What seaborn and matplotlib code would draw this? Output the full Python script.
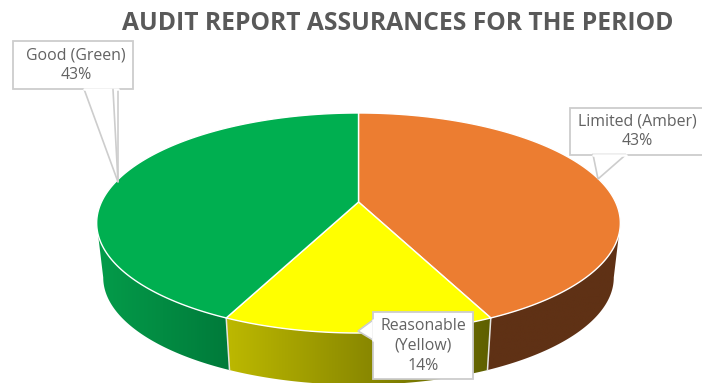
import numpy as np
import matplotlib
matplotlib.use("Agg")
import matplotlib.pyplot as plt
from matplotlib.patches import Polygon
import seaborn as sns

# Audit assurance shares, clockwise from twelve o'clock
categories = ["Limited (Amber)", "Reasonable\n(Yellow)", "Good (Green)"]
shares = [43, 14, 43]
top_colors = ["#EC7D31", "#FFFF00", "#00AF50"]
wall_ramps = [("#5F3115", "#5F3115"), ("#BDB900", "#5E5F00"), ("#049C4A", "#007A3A")]
title_text = "AUDIT REPORT ASSURANCES FOR THE PERIOD"

sns.set_theme(style="white")
plt.rcParams["font.family"] = ["Open Sans", "DejaVu Sans"]

fig = plt.figure(figsize=(7.02, 3.83), dpi=100)
ax = fig.add_axes([0, 0, 1, 1])
ax.set_xlim(0, 702)
ax.set_ylim(383, 0)
ax.axis("off")

# Tilted-disc projection: a unit circle seen in perspective
CX, CY, K, A, B = 358.5, 202.0, 257.0, 106.0, 0.191
DEPTH, SHRINK = 55.0, 0.975


def rim(theta, lower=False):
    x, y = np.sin(theta), np.cos(theta)
    d = 1 + B * y
    px, py = K * x / d, -A * y / d
    if lower:
        return CX + SHRINK * px, CY + SHRINK * py + DEPTH
    return CX + px, CY + py


edges = np.radians(np.cumsum([0] + shares) * 3.6)
front_lo, front_hi = np.radians(101), np.radians(259)

# Side walls are only visible on the near half of the disc
for i in range(len(shares)):
    lo, hi = max(edges[i], front_lo), min(edges[i + 1], front_hi)
    if hi <= lo:
        continue
    t = np.linspace(lo, hi, 120)
    tx, ty = rim(t)
    bx, by = rim(t, lower=True)
    outline = np.column_stack([np.r_[tx, bx[::-1]], np.r_[ty, by[::-1]]])
    patch = Polygon(outline, closed=True, facecolor="none", edgecolor="none", zorder=2)
    ax.add_patch(patch)
    ramp = sns.blend_palette(wall_ramps[i], n_colors=256, as_cmap=True)
    xs = outline[:, 0]
    # Each wall shades from the left end of its sector to the right end
    order = np.linspace(0, 1, 256)[None, :]
    img = ax.imshow(order, cmap=ramp, aspect="auto", zorder=2, interpolation="bilinear",
                    extent=(xs.min(), xs.max(), outline[:, 1].max(), outline[:, 1].min()))
    img.set_clip_path(patch)

# Seams between neighbouring wall sectors
for e in edges[1:-1]:
    tx, ty = rim(np.array([e]))
    bx, by = rim(np.array([e]), lower=True)
    ax.plot([tx[0], bx[0]], [ty[0], by[0]], color="#E4E4E0", lw=1.1, zorder=3)

# Top face sectors
for i in range(len(shares)):
    t = np.linspace(edges[i], edges[i + 1], 240)
    tx, ty = rim(t)
    ax.fill(np.r_[CX, tx], np.r_[CY, ty], facecolor=top_colors[i],
            edgecolor="white", lw=1.0, joinstyle="round", zorder=4)

ax.set_xlim(0, 702)
ax.set_ylim(383, 0)

GREY = "#CDCDCD"
TEXT = "#626262"


def callout(box, tip, base, label, value, text_xy):
    """White label box with a pointer running from its edge to the rim."""
    x0, y0, x1, y1 = box
    ax.add_patch(Polygon([(x0, y0), (x1, y0), (x1, y1), (x0, y1)], closed=True,
                         facecolor="white", edgecolor=GREY, lw=1.3, zorder=6))
    ax.add_patch(Polygon([base[0], tip, base[1]], closed=True, facecolor="white",
                         edgecolor=GREY, lw=1.2, zorder=7))
    # Hide the box edge under the pointer opening
    ax.plot(*zip(base[0], base[1]), color="white", lw=1.8, zorder=7.5)
    ax.text(*text_xy, f"{label}\n{value}%", ha="center", va="center", fontsize=11.4,
            color=TEXT, linespacing=1.33, zorder=8)


callout((13, 41, 133, 89), (118, 182), [(84, 89), (118, 89)],
        categories[2], shares[2], (76, 65))
ax.plot([113, 118], [89.5, 182], color=GREY, lw=1.2, zorder=7.6)
callout((570, 108, 706, 154.5), (598, 179), [(593, 154.5), (626, 154.5)],
        categories[0], shares[0], (637, 131))
callout((373, 312, 473, 379), (358, 331), [(373, 320), (373, 340)],
        categories[1], shares[1], (423, 346))

ax.text(398, 23, title_text, ha="center", va="center", fontsize=17.7,
        fontweight="bold", color="#595959", zorder=8)

fig.savefig("out.png", dpi=100, facecolor="white")
